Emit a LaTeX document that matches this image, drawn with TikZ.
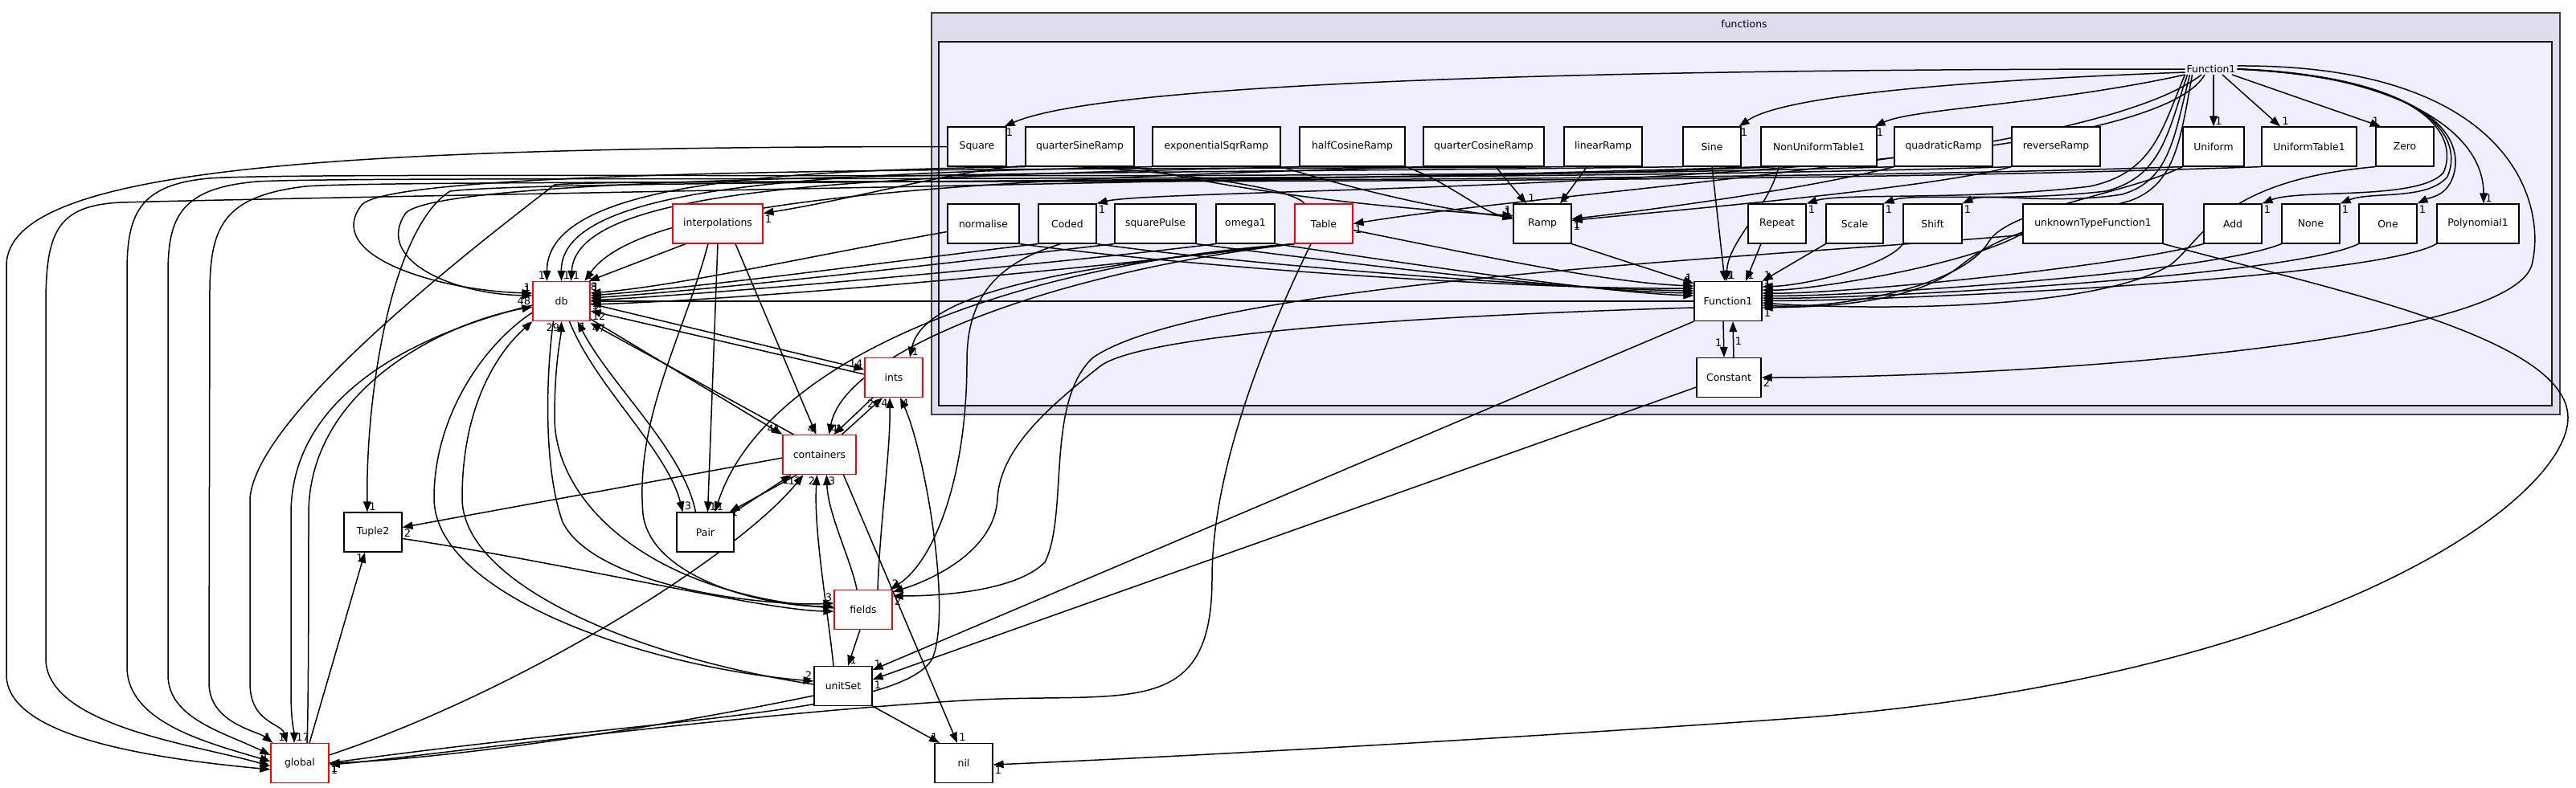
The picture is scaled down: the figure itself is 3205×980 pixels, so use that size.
\documentclass[tikz,border=0pt]{standalone}
\usepackage{fontspec}
\setmainfont{DejaVu Sans}
\usetikzlibrary{arrows.meta}
\definecolor{outerfill}{RGB}{221,221,238}
\definecolor{innerfill}{RGB}{238,238,255}
\newcommand{\boxfont}{\fontsize{12.4}{15}\selectfont}
\newcommand{\lblfont}{\fontsize{13}{15}\selectfont}
\pgfdeclarelayer{bglayer}
\pgfdeclarelayer{edgelayer}
\pgfsetlayers{bglayer,edgelayer,main}
\tikzset{
  dirbox/.style={draw=black, fill=white, line width=1.2pt, minimum height=49pt, inner sep=0pt, font=\boxfont},
  reddir/.style={dirbox, draw=red},
  dep/.style={-{Triangle[length=13pt,width=9.5pt]}, line width=1.5pt},
  hl/.style={font=\lblfont, inner sep=1.5pt, pos=1, anchor=#1},
}
\begin{document}
\begin{tikzpicture}[x=1pt,y=-1pt]
\useasboundingbox (0,0) rectangle (3205,980);
\begin{pgfonlayer}{bglayer}
\fill[white] (0,0) rectangle (3205,980);
\draw[fill=outerfill, draw=black!75, line width=1.8pt] (1159,16) rectangle (3185,516);
\draw[fill=innerfill, draw=black!90, line width=1.8pt] (1168,52) rectangle (3175,505);
\end{pgfonlayer}

\node[font=\boxfont] (fnl) at (2170,30) {functions};
\node[font=\boxfont, inner sep=2pt] (f1l) at (2751,86) {Function1};

% row A
\node[dirbox, minimum width=73pt] (sq) at (1215.5,182.5) {Square};
\node[dirbox, minimum width=135pt] (qsr) at (1343.5,182.5) {quarterSineRamp};
\node[dirbox, minimum width=159pt] (esr) at (1513.5,182.5) {exponentialSqrRamp};
\node[dirbox, minimum width=131pt] (hcr) at (1682.5,182.5) {halfCosineRamp};
\node[dirbox, minimum width=150pt] (qcr) at (1846,182.5) {quarterCosineRamp};
\node[dirbox, minimum width=97pt] (lr) at (1994.5,182.5) {linearRamp};
\node[dirbox, minimum width=72pt] (sine) at (2130,182.5) {Sine};
\node[dirbox, minimum width=144pt] (nut) at (2263,182.5) {NonUniformTable1};
\node[dirbox, minimum width=122pt] (qdr) at (2418,182.5) {quadraticRamp};
\node[dirbox, minimum width=110pt] (rvr) at (2558,182.5) {reverseRamp};
\node[dirbox, minimum width=76pt] (uni) at (2754,182.5) {Uniform};
\node[dirbox, minimum width=118pt] (ut1) at (2873,182.5) {UniformTable1};
\node[dirbox, minimum width=72pt] (zero) at (2992,182.5) {Zero};
% row B
\node[dirbox, minimum width=89pt] (norm) at (1223.5,278.5) {normalise};
\node[dirbox, minimum width=72pt] (coded) at (1328,278.5) {Coded};
\node[dirbox, minimum width=101pt] (sqp) at (1437.5,278.5) {squarePulse};
\node[dirbox, minimum width=73pt] (om) at (1549.5,278.5) {omega1};
\node[reddir, minimum width=72pt] (table) at (1647,278.5) {Table};
\node[dirbox, minimum width=72pt] (ramp) at (1919,278.5) {Ramp};
\node[dirbox, minimum width=72pt] (rep) at (2211,278.5) {Repeat};
\node[dirbox, minimum width=71pt] (scl) at (2307.5,278.5) {Scale};
\node[dirbox, minimum width=73pt] (shf) at (2404.5,278.5) {Shift};
\node[dirbox, minimum width=174pt] (unk) at (2604,278.5) {unknownTypeFunction1};
\node[dirbox, minimum width=72pt] (add) at (2778,278.5) {Add};
\node[dirbox, minimum width=72pt] (none) at (2875,278.5) {None};
\node[dirbox, minimum width=72pt] (one) at (2971,278.5) {One};
\node[dirbox, minimum width=102pt] (poly) at (3083,278.5) {Polynomial1};
% lower
\node[dirbox, minimum width=84pt] (F) at (2150,375) {Function1};
\node[dirbox, minimum width=80pt] (const) at (2151,470) {Constant};
\node[reddir, minimum width=71pt] (db) at (698.5,375) {db};
\node[reddir, minimum width=112pt] (interp) at (893,278.5) {interpolations};
\node[reddir, minimum width=72pt] (ints) at (1112,470) {ints};
\node[reddir, minimum width=91pt] (cont) at (1019.5,566) {containers};
\node[dirbox, minimum width=72pt] (tuple) at (464,662.5) {Tuple2};
\node[dirbox, minimum width=71pt] (pair) at (877.5,662.5) {Pair};
\node[reddir, minimum width=72pt] (fields) at (1074,759) {fields};
\node[dirbox, minimum width=72pt] (unitset) at (1049,854) {unitSet};
\node[reddir, minimum width=72pt] (global) at (373,950) {global};
\node[dirbox, minimum width=72pt] (nil) at (1199,950) {nil};

\begin{pgfonlayer}{edgelayer}
% ---- from the Function1 directory label
\draw[dep] (f1l.west) .. controls (2250,86) and (1400,92) .. ([xshift=-3pt]sq.north east) node[hl=north west]{1};
\draw[dep] ([yshift=-4pt]f1l.west) .. controls (2450,100) and (2220,118) .. ([xshift=-3pt]sine.north east) node[hl=north west]{1};
\draw[dep] (f1l.south west) .. controls (2550,130) and (2380,135) .. ([xshift=-3pt]nut.north east) node[hl=north west]{1};
\draw[dep] ([xshift=3pt]f1l.south) -- (uni.north) node[hl=south west]{1};
\draw[dep] ([xshift=14pt]f1l.south) -- ([xshift=-36pt]ut1.north) node[hl=south west]{1};
\draw[dep] ([xshift=26pt]f1l.south) -- ([xshift=-30pt]zero.north) node[hl=south east]{1};
\draw[dep] ([xshift=-12pt]f1l.south) .. controls (2600,200) and (1950,235) .. (table.east) node[hl=north west]{1};
\draw[dep] ([xshift=-8pt]f1l.south) .. controls (2660,240) and (1450,232) .. (coded.north east) node[hl=north west]{1};
\draw[dep] (f1l.south west) .. controls (2690,160) and (2680,215) .. (2600,232) .. controls (2450,250) and (2290,240) .. (rep.north east) node[hl=north west]{1};
\draw[dep] ([xshift=3pt]f1l.south west) .. controls (2697,165) and (2690,220) .. (2620,238) .. controls (2500,252) and (2380,240) .. (scl.north east) node[hl=north west]{1};
\draw[dep] ([xshift=6pt]f1l.south west) .. controls (2705,170) and (2700,225) .. (2640,242) .. controls (2560,255) and (2470,240) .. (shf.north east) node[hl=north west]{1};
\draw[dep] ([xshift=9pt]f1l.south west) .. controls (2712,180) and (2705,230) .. (2650,250) .. controls (2500,290) and (2480,300) .. (2440,330) .. controls (2380,380) and (2260,382) .. ([yshift=-8pt]F.east) node[hl=north west]{1};
\draw[dep] (f1l.east) .. controls (3020,95) and (3060,170) .. (3040,215) .. controls (3010,250) and (2860,235) .. (add.north east) node[hl=north west]{1};
\draw[dep] (f1l.east) .. controls (3030,97) and (3065,175) .. (3045,220) .. controls (3020,250) and (2950,238) .. (none.north east) node[hl=north west]{1};
\draw[dep] (f1l.east) .. controls (3040,99) and (3070,180) .. (3050,225) .. controls (3040,245) and (3025,245) .. (one.north east) node[hl=north west]{1};
\draw[dep] (f1l.east) .. controls (2950,90) and (3090,150) .. ([xshift=7pt]poly.north) node[hl=south west]{1};
\draw[dep] ([yshift=4pt]f1l.east) .. controls (3120,80) and (3170,250) .. (3150,330) .. controls (3120,430) and (2500,470) .. (const.east) node[hl=north west]{2};

% ---- ramps
\draw[dep] (qsr.south east) .. controls (1600,250) and (1780,262) .. ([yshift=10pt]ramp.west) node[hl=south east]{1};
\draw[dep] (esr.south east) .. controls (1700,240) and (1800,262) .. ([yshift=8pt]ramp.west) node[hl=south east]{1};
\draw[dep] (hcr.south east) .. controls (1800,225) and (1840,262) .. ([yshift=6pt]ramp.west) node[hl=south east]{1};
\draw[dep] ([xshift=15pt]qcr.south) -- ([xshift=-20pt]ramp.north) node[hl=south west]{1};
\draw[dep] ([xshift=-20pt]lr.south) -- ([xshift=22pt]ramp.north) node[hl=south west]{1};
\draw[dep] (qdr.south west) .. controls (2250,235) and (2050,262) .. ([yshift=6pt]ramp.east) node[hl=north west]{1};
\draw[dep] (rvr.south west) .. controls (2400,235) and (2080,262) .. ([yshift=4pt]ramp.east) node[hl=north west]{1};

% ---- into Function1 box
\draw[dep] (ramp.south east) -- ([yshift=22pt]F.west) node[hl=south east]{1};
\draw[dep] ([yshift=-8pt]table.east) .. controls (1850,320) and (2000,352) .. ([yshift=19pt]F.west) node[hl=south east]{1};
\draw[dep] (norm.south east) .. controls (1500,335) and (1900,360) .. ([yshift=16pt]F.west) node[hl=south east]{1};
\draw[dep] (coded.south east) .. controls (1550,330) and (1950,360) .. ([yshift=13pt]F.west) node[hl=south east]{1};
\draw[dep] (sqp.south east) .. controls (1650,325) and (1960,362) .. ([yshift=10pt]F.west) node[hl=south east]{1};
\draw[dep] (om.south east) .. controls (1700,320) and (1980,364) .. ([yshift=7pt]F.west) node[hl=south east]{1};
\draw[dep] (sine.south) -- ([xshift=-4pt]F.north) node[hl=south west]{1};
\draw[dep] ([xshift=-50pt]nut.south) .. controls (2200,260) and (2150,300) .. ([xshift=-2pt]F.north) node[hl=south west]{1};
\draw[dep] ([xshift=-20pt]rep.south) -- ([xshift=22pt]F.north) node[hl=south west]{1};
\draw[dep] (scl.south west) -- (F.north east) node[hl=south west]{1};
\draw[dep] (shf.south west) .. controls (2350,330) and (2250,355) .. ([yshift=18pt]F.east) node[hl=south west]{1};
\draw[dep] ([yshift=-12pt]unk.west) .. controls (2450,330) and (2250,362) .. ([yshift=14pt]F.east) node[hl=south west]{1};
\draw[dep] (add.south west) .. controls (2650,330) and (2300,366) .. ([yshift=10pt]F.east) node[hl=south west]{1};
\draw[dep] (none.south west) .. controls (2750,340) and (2300,370) .. ([yshift=7pt]F.east) node[hl=south west]{1};
\draw[dep] (one.south west) .. controls (2850,345) and (2300,373) .. ([yshift=4pt]F.east) node[hl=north west]{1};
\draw[dep] (poly.south west) .. controls (2950,350) and (2300,376) .. ([yshift=1pt]F.east) node[hl=north west]{1};
\draw[dep] (zero.south west) .. controls (2760,225) and (2740,300) .. (2700,330) .. controls (2600,390) and (2300,385) .. ([yshift=-2pt]F.east);
\draw[dep] (uni.south west) .. controls (2650,240) and (2500,260) .. (2475,300) .. controls (2440,360) and (2280,385) .. ([yshift=-5pt]F.east);
\draw[dep] ([xshift=-6pt]F.south) -- ([xshift=-6pt]const.north) node[hl=east, pos=0.6]{1};
\draw[dep] ([xshift=6pt]const.north) -- ([xshift=6pt]F.south) node[hl=west, pos=0.45]{1};

% ---- row A band to db / global / Tuple2
\draw[dep] (qsr.south west) .. controls (1000,212) and (680,222) .. ([xshift=-18pt]db.north) node[hl=south east]{1};
\draw[dep] (esr.south west) .. controls (1050,216) and (697,225) .. (db.north) node[hl=south west]{1};
\draw[dep] (hcr.south west) .. controls (1100,220) and (718,228) .. ([xshift=12pt]db.north) node[hl=south west]{1};
\draw[dep] (qcr.south west) .. controls (1200,224) and (800,245) .. ([xshift=29pt]db.north) node[hl=south west]{1};
\draw[dep] (lr.south west) .. controls (1500,212) and (500,202) .. (450,255) .. controls (400,320) and (550,362) .. ([yshift=10pt]db.west) node[hl=south east]{1};
\draw[dep] (sine.south west) .. controls (1500,216) and (560,212) .. (505,265) .. controls (465,322) and (560,366) .. ([yshift=7pt]db.west) node[hl=south east]{1};
\draw[dep] (sq.west) .. controls (400,183) and (10,210) .. (8,330) -- (8,840) .. controls (8,920) and (200,945) .. ([yshift=-8pt]global.west) node[hl=south east]{1};
\draw[dep] (nut.south west) .. controls (1700,224) and (400,245) .. (150,252) .. controls (70,256) and (57,290) .. (57,380) -- (57,820) .. controls (57,905) and (250,928) .. ([yshift=-4pt]global.west) node[hl=south east]{1};
\draw[dep] (qdr.south west) .. controls (1700,228) and (400,212) .. (260,222) .. controls (170,230) and (158,270) .. (158,340) -- (158,830) .. controls (158,900) and (260,925) .. ([yshift=2pt]global.west) node[hl=south east]{1};
\draw[dep] (rvr.south west) .. controls (1800,230) and (450,218) .. (320,226) .. controls (225,234) and (209,270) .. (209,340) -- (209,840) .. controls (209,895) and (280,912) .. ([yshift=10pt]global.west);
\draw[dep] (uni.south west) .. controls (2000,232) and (500,222) .. (380,232) .. controls (280,244) and (262,280) .. (261,360) -- (260,850) .. controls (260,900) and (320,910) .. ([xshift=3pt]global.north west) node[hl=south east]{1};
\draw[dep] (ut1.south west) .. controls (2000,236) and (800,220) .. (690,230) .. controls (560,330) and (320,520) .. (311,620) -- (311,850) .. controls (311,900) and (350,900) .. ([xshift=-16pt]global.north) node[hl=south east]{1};
\draw[dep] ([xshift=20pt]nut.south west) .. controls (1700,230) and (700,222) .. (560,238) .. controls (490,282) and (455,480) .. ([xshift=-7pt]tuple.north) node[hl=south west]{1};

% ---- row B to db and others
\draw[dep] ([yshift=-10pt]norm.west) .. controls (1000,320) and (850,355) .. ([yshift=10pt]db.east) node[hl=south west]{1};
\draw[dep] (coded.south west) .. controls (1150,320) and (900,355) .. ([yshift=7pt]db.east) node[hl=south west]{1};
\draw[dep] (sqp.south west) .. controls (1200,325) and (900,360) .. ([yshift=4pt]db.east) node[hl=west]{3};
\draw[dep] (om.south west) .. controls (1300,330) and (900,365) .. ([yshift=1pt]db.east) node[hl=north west]{5};
\draw[dep] (table.south west) .. controls (1350,335) and (950,372) .. ([yshift=-4pt]db.east) node[hl=north west]{1};
\draw[dep] (F.west) -- (db.east);
\draw[dep] ([xshift=-24pt]table.north) .. controls (1600,225) and (1330,200) .. (1255,208) .. controls (1180,215) and (1050,250) .. ([yshift=13pt]interp.east) node[hl=north west]{1};
\draw[dep] (table.south west) .. controls (1350,330) and (1150,360) .. ([xshift=20pt]ints.north) node[hl=south west]{1};
\draw[dep] (table.south west) .. controls (1300,340) and (1050,440) .. ([xshift=12pt]cont.north) node[hl=south west]{4};
\draw[dep] (table.south west) .. controls (1250,330) and (950,450) .. ([xshift=12pt]pair.north) node[hl=south west]{1};
\draw[dep] ([xshift=-16pt]table.south) .. controls (1560,450) and (1508,600) .. (1508,720) .. controls (1508,900) and (1400,860) .. (1200,872) .. controls (900,890) and (500,945) .. ([yshift=-2pt]global.east) node[hl=north west]{1};
\draw[dep] ([xshift=-8pt]coded.south) .. controls (1230,330) and (1203,380) .. (1203,450) .. controls (1203,600) and (1160,700) .. ([xshift=-3pt]fields.north east) node[hl=south west]{2};
\draw[dep] ([yshift=-8pt]F.west) .. controls (1700,395) and (1420,420) .. (1370,455) .. controls (1300,510) and (1245,560) .. (1241,620) .. controls (1238,690) and (1150,725) .. ([yshift=-3pt]fields.north east);
\draw[dep] ([yshift=-14pt]unk.west) .. controls (2200,320) and (1500,350) .. (1360,445) .. controls (1300,500) and (1330,640) .. (1300,700) .. controls (1260,740) and (1150,742) .. ([yshift=-8pt]fields.north east) node[hl=north west]{2};
\draw[dep] (unk.south east) .. controls (2900,360) and (3195,420) .. (3195,520) .. controls (3195,620) and (2900,840) .. (2250,893) .. controls (1800,925) and (1400,945) .. ([yshift=-2pt]nil.east) node[hl=north west]{1};
\draw[dep] (F.south west) -- ([yshift=20pt]unitset.east) node[hl=south west]{1};
\draw[dep] ([yshift=-12pt]const.west) -- ([yshift=8pt]unitset.east) node[hl=north west]{1};

% ---- core graph
\draw[dep] ([xshift=-40pt]interp.south) -- ([xshift=-2pt]db.north east) node[hl=north west]{8};
\draw[dep] (interp.south) -- ([xshift=3pt]pair.north) node[hl=south west]{1};
\draw[dep] ([xshift=22pt]interp.south) -- ([xshift=-4pt]cont.north) node[hl=south east]{4};
\draw[dep] ([xshift=-12pt]interp.south) .. controls (850,420) and (790,520) .. (800,640) .. controls (810,720) and (950,755) .. ([yshift=4pt]fields.west);
\draw[dep] ([yshift=-5pt]db.west) .. controls (500,420) and (362,500) .. (362,640) -- (362,860) .. controls (362,900) and (366,910) .. ([xshift=-7pt]global.north) node[hl=south west]{17};
\draw[dep] ([xshift=9pt]global.north) .. controls (384,880) and (384,700) .. (384,640) .. controls (384,480) and (560,400) .. ([yshift=-7pt]db.west) node[hl=south east]{48};
\draw[dep] ([xshift=12pt]global.north) -- ([xshift=-10pt]tuple.south) node[hl=north east]{1};
\draw[dep] ([yshift=-14pt]db.west) .. controls (600,430) and (540,520) .. (540,620) .. controls (540,740) and (800,830) .. ([yshift=6pt]unitset.west) node[hl=south east]{2};
\draw[dep] ([yshift=2pt]unitset.west) .. controls (800,820) and (575,730) .. (575,620) .. controls (575,480) and (640,420) .. (db.south west) node[hl=north east]{4};
\draw[dep] ([xshift=10pt]db.south) .. controls (740,480) and (830,560) .. ([xshift=-28pt]pair.north) node[hl=south west]{3};
\draw[dep] ([xshift=-12pt]pair.north) .. controls (850,560) and (760,480) .. ([xshift=20pt]db.south) node[hl=north west]{1};
\draw[dep] ([yshift=2pt]fields.west) .. controls (800,740) and (690,620) .. (690,520) .. controls (690,450) and (698,420) .. (db.south) node[hl=north east]{29};
\draw[dep] ([xshift=-10pt]db.south) .. controls (680,460) and (675,580) .. (700,650) .. controls (740,730) and (950,755) .. ([yshift=8pt]fields.west) node[hl=south east]{3};
\draw[dep] ([yshift=3pt]db.south east) -- (cont.north west) node[hl=south east]{41};
\draw[dep] ([xshift=14pt]cont.north west) -- ([yshift=-2pt]db.south east) node[hl=north west]{47};
\draw[dep] ([yshift=-3pt]db.east) -- ([yshift=10pt]ints.west) node[hl=south east]{14};
\draw[dep] ([yshift=4pt]ints.west) -- ([yshift=-12pt]db.east) node[hl=north west]{12};
\draw[dep] ([xshift=28pt]cont.north) -- ([xshift=-14pt]ints.south) node[hl=north east]{21};
\draw[dep] ([xshift=-26pt]ints.south) -- ([xshift=18pt]cont.north) node[hl=south west]{1};
\draw[dep] ([yshift=-4pt]cont.west) -- ([yshift=6pt]tuple.east) node[hl=north west]{2};
\draw[dep] ([yshift=-8pt]tuple.east) .. controls (700,700) and (950,760) .. ([yshift=-2pt]fields.west);
\draw[dep] (pair.north east) -- ([xshift=-35pt]cont.south) node[hl=north east]{1};
\draw[dep] ([xshift=-28pt]cont.south) -- ([xshift=-6pt]pair.north east) node[hl=west]{1};
\draw[dep] ([yshift=10pt]global.east) .. controls (650,860) and (920,690) .. ([xshift=-20pt]cont.south) node[hl=north east]{12};
\draw[dep] ([xshift=-12pt]unitset.north) .. controls (1030,760) and (1012,660) .. ([xshift=-3pt]cont.south) node[hl=north east]{2};
\draw[dep] ([xshift=-8pt]fields.north) .. controls (1060,700) and (1030,640) .. ([xshift=9pt]cont.south) node[hl=north west]{3};
\draw[dep] ([xshift=18pt]fields.north) .. controls (1095,650) and (1108,560) .. ([xshift=-5pt]ints.south) node[hl=north east]{4};
\draw[dep] (global.east) .. controls (800,895) and (1120,890) .. (1160,820) .. controls (1185,760) and (1150,560) .. ([xshift=8pt]ints.south) node[hl=north west]{4};
\draw[dep] ([xshift=-4pt]fields.south) -- ([xshift=6pt]unitset.north) node[hl=south west]{1};
\draw[dep] ([yshift=-12pt]unitset.west) .. controls (800,910) and (550,945) .. (global.east) node[hl=north west]{1};
\draw[dep] (unitset.south east) -- ([xshift=-30pt]nil.north) node[hl=south east]{1};
\draw[dep] ([xshift=30pt]cont.south) -- ([xshift=-8pt]nil.north) node[hl=south west]{1};
\end{pgfonlayer}
\end{tikzpicture}
\end{document}
